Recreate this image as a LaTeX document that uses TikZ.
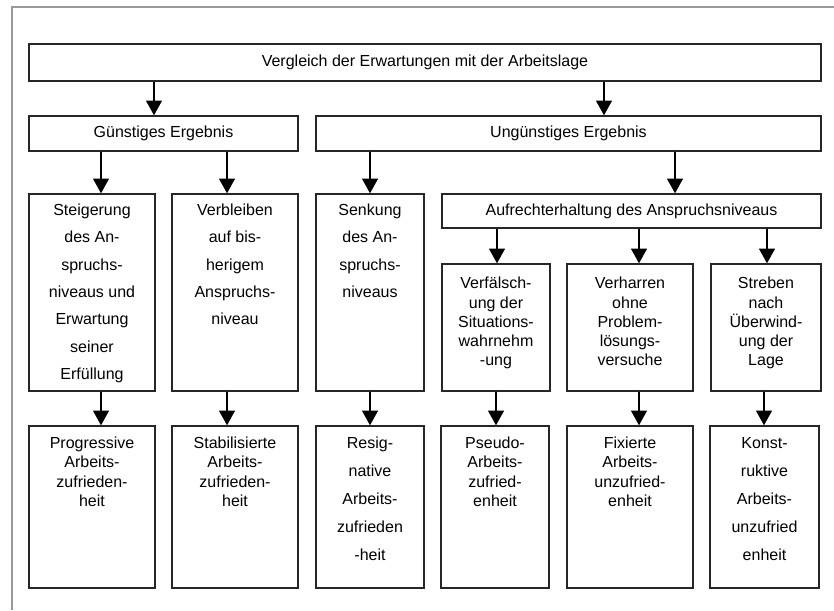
\documentclass[tikz,border=0pt]{standalone}
\usepackage{fontspec}
\setmainfont{Liberation Sans}
\usetikzlibrary{arrows.meta,fit}
\newcommand{\hoch}{\rule{0pt}{12pt}}

\begin{document}
\begin{tikzpicture}[x=0.75pt,y=-0.75pt]
\tikzstyle{kasten}=[draw=black!85,line width=1.1pt,inner sep=0pt]
\tikzstyle{pfeil}=[-{Triangle[width=12pt,length=11pt]},line width=0.8pt]
\tikzstyle{zeile}=[inner sep=0pt,font=\fontsize{12}{14}\selectfont]
\tikzstyle{weit}=[align=center,anchor=north,inner sep=0pt,font=\fontsize{12}{20.5}\selectfont]
\tikzstyle{eng}=[align=center,anchor=north,inner sep=0pt,font=\fontsize{12}{14.4}\selectfont]
\tikzstyle{luft}=[align=center,anchor=north,inner sep=0pt,font=\fontsize{12}{21}\selectfont]

\useasboundingbox (0,0) rectangle (834,610);
%rahmen
\draw[black!40,line width=0.8pt] (834,7) -- (12,7) -- (12,610);

%oben
\node[kasten,fit={(29,44) (821,81)}] (vgl) {};
\node[zeile] (vgl-t) at (vgl.center) {Vergleich der Erwartungen mit der Arbeitslage};
\node[kasten,fit={(29,116) (298,151)}] (gue) {};
\node[zeile] (gue-t) at (gue.center) {Günstiges Ergebnis};
\node[kasten,fit={(316,116) (821,151)}] (ung) {};
\node[zeile] (ung-t) at (ung.center) {Ungünstiges Ergebnis};
\draw[pfeil] (vgl.south -| 154,0) -- (gue.north -| 154,0);
\draw[pfeil] (vgl.south -| 604,0) -- (ung.north -| 604,0);

%reaktionen
\node[kasten,fit={(29,194) (155,391)}] (stg) {};
\node[weit] (stg-t) at ([yshift=-4.5pt]stg.north) {\hoch Steigerung\\des An-\\spruchs-\\niveaus und\\Erwartung\\seiner\\Erfüllung};
\node[kasten,fit={(172,194) (298,391)}] (vbl) {};
\node[weit] (vbl-t) at ([yshift=-4.5pt]vbl.north) {\hoch Verbleiben\\auf bis-\\herigem\\Anspruchs-\\niveau};
\node[kasten,fit={(316,194) (424,391)}] (snk) {};
\node[weit] (snk-t) at ([yshift=-4.5pt]snk.north) {\hoch Senkung\\des An-\\spruchs-\\niveaus};
\node[kasten,fit={(442,194) (821,228)}] (auf) {};
\node[zeile] (auf-t) at (auf.center) {Aufrechterhaltung des Anspruchsniveaus};
\draw[pfeil] (gue.south -| 101,0) -- (stg.north -| 101,0);
\draw[pfeil] (gue.south -| 227,0) -- (vbl.north -| 227,0);
\draw[pfeil] (ung.south -| 370,0) -- (snk.north -| 370,0);
\draw[pfeil] (ung.south -| 675,0) -- (auf.north -| 675,0);

\node[kasten,fit={(442,264) (550,391)}] (vfl) {};
\node[eng] (vfl-t) at ([yshift=-7pt]vfl.north) {\hoch Verfälsch-\\ung der\\Situations-\\wahrnehm\\-ung};
\node[kasten,fit={(567,264) (693,391)}] (vhr) {};
\node[eng] (vhr-t) at ([yshift=-7pt]vhr.north) {\hoch Verharren\\ohne\\Problem-\\lösungs-\\versuche};
\node[kasten,fit={(711,264) (821,391)}] (str) {};
\node[eng] (str-t) at ([yshift=-7pt]str.north) {\hoch Streben\\nach\\Überwind-\\ung der\\Lage};
\draw[pfeil] (auf.south -| 497,0) -- (vfl.north -| 497,0);
\draw[pfeil] (auf.south -| 639,0) -- (vhr.north -| 639,0);
\draw[pfeil] (auf.south -| 767,0) -- (str.north -| 767,0);

%ergebnis
\node[kasten,fit={(29,426) (155,588)}] (prg) {};
\node[eng] (prg-t) at ([yshift=-5.3pt]prg.north) {\hoch Progressive\\Arbeits-\\zufrieden-\\heit};
\node[kasten,fit={(172,426) (298,588)}] (stb) {};
\node[eng] (stb-t) at ([yshift=-5.3pt]stb.north) {\hoch Stabilisierte\\Arbeits-\\zufrieden-\\heit};
\node[kasten,fit={(316,426) (424,588)}] (res) {};
\node[luft] (res-t) at ([yshift=-5.3pt]res.north) {\hoch Resig-\\native\\Arbeits-\\zufrieden\\-heit};
\node[kasten,fit={(441,426) (549,588)}] (pse) {};
\node[eng] (pse-t) at ([yshift=-5.3pt]pse.north) {\hoch Pseudo-\\Arbeits-\\zufried-\\enheit};
\node[kasten,fit={(567,426) (693,588)}] (fix) {};
\node[eng] (fix-t) at ([yshift=-5.3pt]fix.north) {\hoch Fixierte\\Arbeits-\\unzufried-\\enheit};
\node[kasten,fit={(710,426) (819,588)}] (kon) {};
\node[luft] (kon-t) at ([yshift=-5.3pt]kon.north) {\hoch Konst-\\ruktive\\Arbeits-\\unzufried\\enheit};
\draw[pfeil] (stg.south -| 101,0) -- (prg.north -| 101,0);
\draw[pfeil] (vbl.south -| 227,0) -- (stb.north -| 227,0);
\draw[pfeil] (snk.south -| 370,0) -- (res.north -| 370,0);
\draw[pfeil] (vfl.south -| 496,0) -- (pse.north -| 496,0);
\draw[pfeil] (vhr.south -| 639,0) -- (fix.north -| 639,0);
\draw[pfeil] (str.south -| 764,0) -- (kon.north -| 764,0);

\end{tikzpicture}
\end{document}
